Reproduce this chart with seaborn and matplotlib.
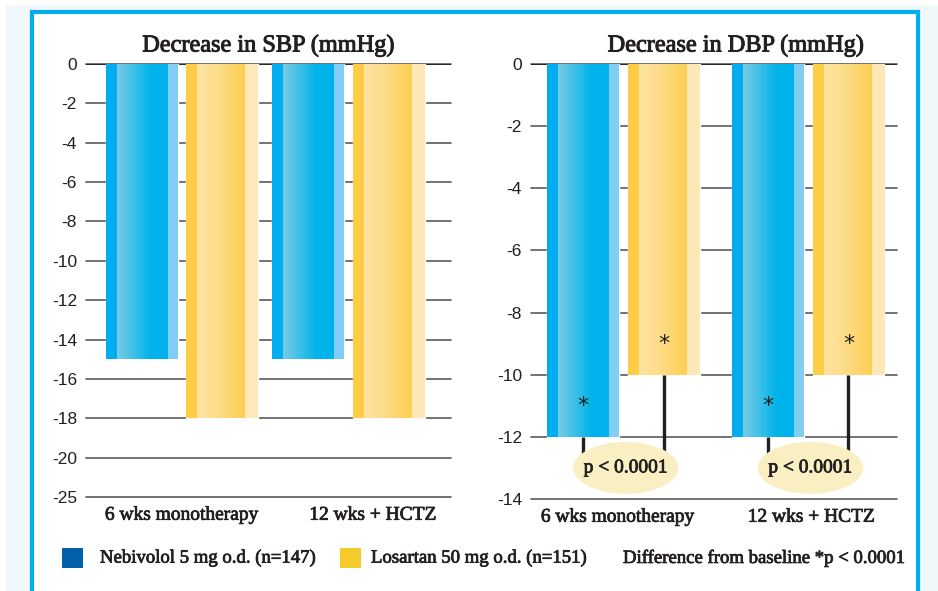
import numpy as np
import pandas as pd
import seaborn as sns
import matplotlib.pyplot as plt
import matplotlib.patheffects as pe
from matplotlib.patches import Ellipse, Rectangle

# ---- data ----
periods = ["6 wks monotherapy", "12 wks + HCTZ"]
treatments = ["Nebivolol 5 mg o.d. (n=147)", "Losartan 50 mg o.d. (n=151)"]
sbp_nebivolol = [-15, -15]
sbp_losartan = [-18, -18]
dbp_nebivolol = [-12, -12]
dbp_losartan = [-10, -10]

# SBP axis is drawn with an even step, the last tick reads -25
sbp_ticks = [0, -2, -4, -6, -8, -10, -12, -14, -16, -18, -20, -22]
sbp_tick_labels = ["0", "-2", "-4", "-6", "-8", "-10", "-12", "-14", "-16", "-18", "-20", "-25"]
dbp_ticks = [0, -2, -4, -6, -8, -10, -12, -14]
dbp_tick_labels = ["0", "-2", "-4", "-6", "-8", "-10", "-12", "-14"]

sbp_title = "Decrease in SBP (mmHg)"
dbp_title = "Decrease in DBP (mmHg)"
p_text = "p < 0.0001"
footnote = "Difference from baseline *p < 0.0001"

# ---- styles ----
BLUE = "#00aeef"
YELLOW = "#fdd043"
LEG_BLUE = "#0061aa"
LEG_YELLOW = "#f5cb2a"
FRAME_BLUE = "#00aeef"
PALE = "#f1f8fc"
ELLIPSE = "#faefc3"
INK = "#231f20"

# stripe / gradient stops across a bar's width (fraction, colour)
blue_stops = [(0.0, "#00aeef"), (0.155, "#00aeef"), (0.156, "#78cbe6"),
              (0.62, "#00b4ea"), (0.86, "#00b1ec"), (0.861, "#80cef4"), (1.0, "#80cef4")]
yellow_stops = [(0.0, "#fecd45"), (0.155, "#fecd45"), (0.156, "#fde4a3"),
                (0.45, "#fddc87"), (0.82, "#fccf52"), (0.821, "#fee8b8"), (1.0, "#fee8b8")]

sns.set_theme(style="white")
plt.rcParams['font.family'] = ['Liberation Serif', 'DejaVu Serif']
plt.rcParams['text.color'] = INK

# the original serif is a touch heavier than Liberation Serif
heavy = [pe.withStroke(linewidth=0.55, foreground=INK)]


def stops_to_image(stops, n=400):
    pos = np.array([s[0] for s in stops])
    cols = np.array([plt.matplotlib.colors.to_rgb(s[1]) for s in stops])
    xs = np.linspace(0, 1, n)
    img = np.stack([np.interp(xs, pos, cols[:, k]) for k in range(3)], axis=-1)
    return img[np.newaxis, :, :]


def draw_panel(ax, neb, los, ticks, tick_labels, title, width, xlim, label_pos, title_x):
    df = pd.DataFrame({
        "period": periods * 2,
        "treatment": [treatments[0]] * len(periods) + [treatments[1]] * len(periods),
        "value": list(neb) + list(los),
    })
    sns.barplot(data=df, x="period", y="value", hue="treatment", order=periods,
                hue_order=treatments, palette=[BLUE, YELLOW], saturation=1,
                width=width, gap=0.11, legend=False, ax=ax, zorder=2, errorbar=None)

    # striped gradient fill on each bar
    for cont, stops in zip(ax.containers, [blue_stops, yellow_stops]):
        img = stops_to_image(stops)
        for patch in cont.patches:
            x0, y0 = patch.get_x(), patch.get_y()
            w, h = patch.get_width(), patch.get_height()
            im = ax.imshow(img, extent=(x0, x0 + w, y0 + h, y0), aspect="auto",
                           interpolation="nearest", zorder=2.5, origin="upper")
            im.set_clip_path(patch)

    ax.set_xlim(*xlim)
    ax.set_ylim(ticks[-1], 0)
    ax.set_yticks(ticks)
    ax.set_yticklabels(tick_labels, family="Liberation Sans", fontsize=12.5)
    ax.set_xticks(label_pos)
    ax.set_xticklabels(periods, fontsize=14)
    for lab in ax.get_xticklabels():
        lab.set_path_effects(heavy)
    ax.set_xlabel("")
    ax.set_ylabel("")
    ax.tick_params(axis="both", length=0, colors=INK)
    ax.tick_params(axis="y", pad=6.5)
    ax.tick_params(axis="x", pad=7)
    ax.grid(axis="y", color="#5a5a5a", linewidth=1.2)
    ax.grid(axis="x", visible=False)
    ax.set_axisbelow(True)
    for line in ax.get_ygridlines():
        line.set_clip_on(False)
    ax.axhline(0, color=INK, linewidth=1.3, zorder=1)
    for s in ax.spines.values():
        s.set_visible(False)
    ax.patch.set_alpha(0)
    t = ax.set_title(title, fontsize=17.5, x=title_x, pad=9, color=INK)
    t.set_path_effects([pe.withStroke(linewidth=0.7, foreground=INK)])


fig = plt.figure(figsize=(9.38, 5.91), dpi=100)
W, H = 938, 591


def px(x, y, w, h):
    return [x / W, 1 - (y + h) / H, w / W, h / H]


# page background and blue frame
fig.add_artist(Rectangle((6 / W, 0), 1, 1 - 5 / H, transform=fig.transFigure,
                         facecolor=PALE, edgecolor="none", zorder=-3))
fig.add_artist(Rectangle((32 / W, -0.1), (918 - 32) / W, 1.1 - 12 / H, transform=fig.transFigure,
                         facecolor="white", edgecolor=FRAME_BLUE, linewidth=3, zorder=-2))

ax1 = fig.add_axes(px(86, 64, 365, 433))
ax2 = fig.add_axes(px(531, 64, 366, 435))

draw_panel(ax1, sbp_nebivolol, sbp_losartan, sbp_ticks, sbp_tick_labels, sbp_title,
           width=0.967, xlim=(-0.577, 1.616), label_pos=[0, 1.15], title_x=0.5)
draw_panel(ax2, dbp_nebivolol, dbp_losartan, dbp_ticks, dbp_tick_labels, dbp_title,
           width=0.873, xlim=(-0.501, 1.481), label_pos=[-0.03, 1.02], title_x=0.56)

# significance marks on the DBP panel
ell_y = dbp_ticks[-1] + 1.0
for cont in ax2.containers:
    for patch in cont.patches:
        xc = patch.get_x() + patch.get_width() / 2
        val = patch.get_height()
        ax2.text(xc, val + 1.0, "*", ha="center", va="center", fontsize=16,
                 family="DejaVu Sans", color=INK, zorder=4)
        ax2.vlines(xc, val, ell_y, color=INK, linewidth=2.4, zorder=3)
for i in range(len(periods)):
    grp = [c.patches[i] for c in ax2.containers]
    xmid = (grp[0].get_x() + grp[-1].get_x() + grp[-1].get_width()) / 2 + 0.012
    ax2.add_patch(Ellipse((xmid, ell_y), width=0.57, height=1.67,
                          facecolor=ELLIPSE, edgecolor="none", zorder=5))
    t = ax2.text(xmid, ell_y, p_text, ha="center", va="center",
                 fontsize=14, color=INK, zorder=6)
    t.set_path_effects(heavy)

# legend row
for (x0, col), (tx, label) in zip([(62, LEG_BLUE), (340, LEG_YELLOW)],
                                  [(100, treatments[0]), (371, treatments[1])]):
    fig.add_artist(Rectangle((x0 / W, 1 - 568 / H), 21 / W, 20 / H,
                             transform=fig.transFigure, facecolor=col, edgecolor="none"))
    t = fig.text(tx / W, 1 - 558 / H, label, ha="left", va="center", fontsize=13.5)
    t.set_path_effects(heavy)
t = fig.text(623 / W, 1 - 558 / H, footnote, ha="left", va="center", fontsize=13.5)
t.set_path_effects(heavy)

fig.savefig("out.png", dpi=100)
